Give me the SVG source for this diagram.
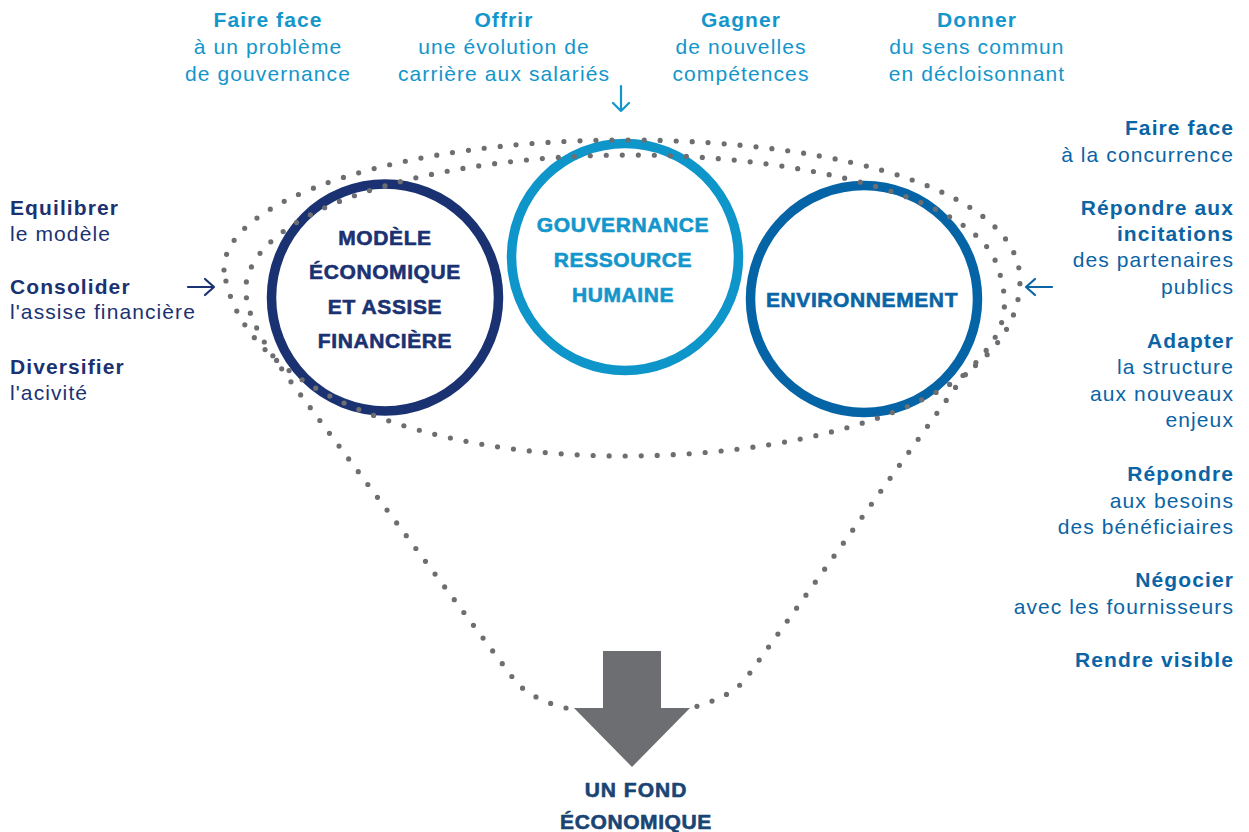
<svg xmlns="http://www.w3.org/2000/svg" width="1249" height="832" viewBox="0 0 1249 832">
  <style>
    text { font-family: "Liberation Sans", Arial, sans-serif; font-size: 21px; letter-spacing: 1.1px; }
    .b { font-weight: bold; }
    .top { fill: #1396cb; text-anchor: middle; }
    .left { fill: #1b3272; }
    .right { fill: #0a64a5; text-anchor: end; }
    .ctext { font-size: 21px; font-weight: bold; text-anchor: middle; letter-spacing: 0.6px; stroke-width: 0.6; }
    .dots { fill: none; stroke: #6d6e71; stroke-width: 5.2; stroke-linecap: round; stroke-dasharray: 0 16; }
    .ring { fill: none; stroke-width: 9.5; }
    .thin { fill: none; stroke-width: 2.2; stroke-linecap: round; stroke-linejoin: round; }
  </style>

  <!-- circles -->
  <g id="node-modele">
    <circle class="ring" cx="385" cy="297.5" r="113.5" stroke="#1b3272"/>
    <text class="ctext" fill="#1b3272" stroke="#1b3272" x="385" y="245">MODÈLE</text>
    <text class="ctext" fill="#1b3272" stroke="#1b3272" x="385" y="279">ÉCONOMIQUE</text>
    <text class="ctext" fill="#1b3272" stroke="#1b3272" x="385" y="314">ET ASSISE</text>
    <text class="ctext" fill="#1b3272" stroke="#1b3272" x="385" y="348">FINANCIÈRE</text>
  </g>
  <g id="node-gouvernance">
    <circle class="ring" cx="625" cy="257" r="113.5" stroke="#0e95c9"/>
    <text class="ctext" fill="#1396cb" stroke="#1396cb" x="623" y="232">GOUVERNANCE</text>
    <text class="ctext" fill="#1396cb" stroke="#1396cb" x="623" y="267">RESSOURCE</text>
    <text class="ctext" fill="#1396cb" stroke="#1396cb" x="623" y="302">HUMAINE</text>
  </g>
  <g id="node-environnement">
    <circle class="ring" cx="864" cy="299" r="113.5" stroke="#0564a6"/>
    <text class="ctext" fill="#0a64a5" stroke="#0a64a5" x="862" y="307">ENVIRONNEMENT</text>
  </g>

  <!-- connectors -->
  <g id="connectors">
    <path class="dots" d="M 224,270 C 222,200 400,140 625,140 C 850,140 1020,195 1020,280 C 1020,392 830,456 622,456 C 430,456 240,392 224,270 Z"/>
    <path class="dots" d="M 566,708 C 545,703 527,694 516,682 L 300,394 C 258,338 236,300 250,270 C 280,200 450,155 630,155 C 810,155 975,200 997,265 C 1020,330 985,348 958,384 L 747,677 C 738,690 720,700 691,708"/>
    <g stroke="#1b3272" class="thin">
      <path d="M 188,287 L 214,287 M 205,279 L 214,287 L 205,295"/>
    </g>
    <g stroke="#0a64a5" class="thin">
      <path d="M 1052,287 L 1026,287 M 1035,279 L 1026,287 L 1035,295"/>
    </g>
    <g stroke="#1396cb" class="thin">
      <path d="M 621,86 L 621,111 M 613,103 L 621,111 L 629,103"/>
    </g>
  </g>

  <!-- big arrow and result -->
  <g id="node-fond">
    <path d="M 603,651 L 661,651 L 661,708 L 690,708 L 632,767 L 574,708 L 603,708 Z" fill="#6d6e71"/>
    <text class="ctext" fill="#1a4474" stroke="#1a4474" x="636" y="797" style="letter-spacing:1px">UN FOND</text>
    <text class="ctext" fill="#1a4474" stroke="#1a4474" x="636" y="829" style="letter-spacing:0.6px">ÉCONOMIQUE</text>
  </g>

  <!-- top labels -->
  <g id="node-top1">
    <text class="top b" x="268" y="27">Faire face</text>
    <text class="top" x="268" y="54">à un problème</text>
    <text class="top" x="268" y="81">de gouvernance</text>
  </g>
  <g id="node-top2">
    <text class="top b" x="504" y="27">Offrir</text>
    <text class="top" x="504" y="54">une évolution de</text>
    <text class="top" x="504" y="81">carrière aux salariés</text>
  </g>
  <g id="node-top3">
    <text class="top b" x="741" y="27">Gagner</text>
    <text class="top" x="741" y="54">de nouvelles</text>
    <text class="top" x="741" y="81">compétences</text>
  </g>
  <g id="node-top4">
    <text class="top b" x="977" y="27">Donner</text>
    <text class="top" x="977" y="54">du sens commun</text>
    <text class="top" x="977" y="81">en décloisonnant</text>
  </g>

  <!-- left labels -->
  <g id="node-left1">
    <text class="left b" x="10" y="215">Equilibrer</text>
    <text class="left" x="10" y="241">le modèle</text>
  </g>
  <g id="node-left2">
    <text class="left b" x="10" y="294">Consolider</text>
    <text class="left" x="10" y="319">l'assise financière</text>
  </g>
  <g id="node-left3">
    <text class="left b" x="10" y="374">Diversifier</text>
    <text class="left" x="10" y="400">l'acivité</text>
  </g>

  <!-- right labels -->
  <g id="node-right1">
    <text class="right b" x="1234" y="135">Faire face</text>
    <text class="right" x="1234" y="162">à la concurrence</text>
  </g>
  <g id="node-right2">
    <text class="right b" x="1234" y="215">Répondre aux</text>
    <text class="right b" x="1234" y="241">incitations</text>
    <text class="right" x="1234" y="267">des partenaires</text>
    <text class="right" x="1234" y="294">publics</text>
  </g>
  <g id="node-right3">
    <text class="right b" x="1234" y="348">Adapter</text>
    <text class="right" x="1234" y="374">la structure</text>
    <text class="right" x="1234" y="401">aux nouveaux</text>
    <text class="right" x="1234" y="427">enjeux</text>
  </g>
  <g id="node-right4">
    <text class="right b" x="1234" y="481">Répondre</text>
    <text class="right" x="1234" y="508">aux besoins</text>
    <text class="right" x="1234" y="534">des bénéficiaires</text>
  </g>
  <g id="node-right5">
    <text class="right b" x="1234" y="587">Négocier</text>
    <text class="right" x="1234" y="614">avec les fournisseurs</text>
  </g>
  <g id="node-right6">
    <text class="right b" x="1234" y="667">Rendre visible</text>
  </g>
</svg>
